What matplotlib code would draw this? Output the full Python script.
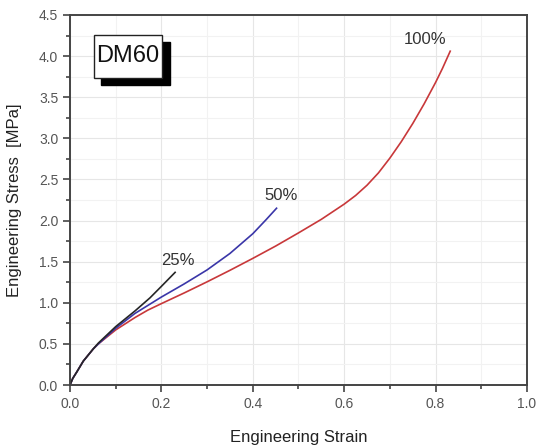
import matplotlib
matplotlib.use('Agg')
import matplotlib.pyplot as plt
from matplotlib.patches import Rectangle
from matplotlib.ticker import MultipleLocator

plt.rcParams['font.family'] = ['Liberation Sans', 'DejaVu Sans']

# strain / stress
strain_25 = [0.0, 0.006, 0.015, 0.029, 0.051, 0.062, 0.1, 0.142, 0.175, 0.2, 0.23]
stress_25 = [0.0, 0.08, 0.16, 0.29, 0.44, 0.51, 0.71, 0.90, 1.06, 1.20, 1.37]

strain_50 = [0.0, 0.006, 0.015, 0.029, 0.051, 0.062, 0.1, 0.142, 0.2, 0.25,
             0.3, 0.35, 0.4, 0.429, 0.452]
stress_50 = [0.0, 0.08, 0.16, 0.29, 0.44, 0.50, 0.69, 0.87, 1.07, 1.23,
             1.40, 1.60, 1.84, 2.01, 2.15]

strain_100 = [0.0, 0.006, 0.015, 0.029, 0.051, 0.062, 0.1, 0.142, 0.17, 0.2, 0.25,
              0.3, 0.35, 0.4, 0.45, 0.5, 0.55, 0.6, 0.625, 0.65, 0.675, 0.7,
              0.725, 0.75, 0.775, 0.8, 0.815, 0.832]
stress_100 = [0.0, 0.08, 0.16, 0.29, 0.44, 0.50, 0.67, 0.82, 0.91, 0.99, 1.12,
              1.255, 1.395, 1.54, 1.69, 1.85, 2.015, 2.20, 2.305, 2.43, 2.58, 2.76,
              2.96, 3.18, 3.42, 3.68, 3.85, 4.06]

labels = ['25%', '50%', '100%']
label_pos = [(0.237, 1.52), (0.461, 2.31), (0.777, 4.20)]

fig = plt.figure(figsize=(5.41, 4.45), dpi=100)
ax = fig.add_axes([0.1294, 0.1348, 0.8447, 0.8315])

ax.plot(strain_100, stress_100, color='#c8383a', lw=1.2)
ax.plot(strain_50, stress_50, color='#3a36a8', lw=1.2)
ax.plot(strain_25, stress_25, color='#262626', lw=1.2)

for lab, (x, y) in zip(labels, label_pos):
    ax.text(x, y, lab, fontsize=12, color='#333333', ha='center', va='center')

ax.set_xlim(0, 1.0)
ax.set_ylim(0, 4.5)
ax.xaxis.set_major_locator(MultipleLocator(0.2))
ax.xaxis.set_minor_locator(MultipleLocator(0.1))
ax.yaxis.set_major_locator(MultipleLocator(0.5))
ax.yaxis.set_minor_locator(MultipleLocator(0.25))
ax.grid(which='major', color='#e6e6e6', lw=0.8)
ax.grid(which='minor', color='#f2f2f2', lw=0.8)
ax.set_axisbelow(True)

ax.tick_params(which='both', direction='out', color='#444444', width=1.2,
               labelsize=10, labelcolor='#555555')
ax.tick_params(which='major', length=5)
ax.tick_params(which='minor', length=3)
for s in ax.spines.values():
    s.set_color('#444444')
    s.set_linewidth(1.4)

ax.set_xlabel('Engineering Strain', fontsize=12, color='#222222', labelpad=14)
ax.set_ylabel('Engineering Stress  [MPa]', fontsize=12, color='#222222', labelpad=12)

# DM60 box with drop shadow
bx, by, bw, bh = 0.052, 0.830, 0.150, 0.117
ax.add_patch(Rectangle((bx + 0.016, by - 0.019), bw, bh, transform=ax.transAxes,
                       facecolor='black', edgecolor='black', zorder=5))
ax.add_patch(Rectangle((bx, by), bw, bh, transform=ax.transAxes,
                       facecolor='white', edgecolor='#222222', lw=1.0, zorder=6))
ax.text(bx + bw / 2, by + bh / 2, 'DM60', transform=ax.transAxes, fontsize=17,
        ha='center', va='center', color='#111111', zorder=7)

fig.savefig('out.png', dpi=100)
